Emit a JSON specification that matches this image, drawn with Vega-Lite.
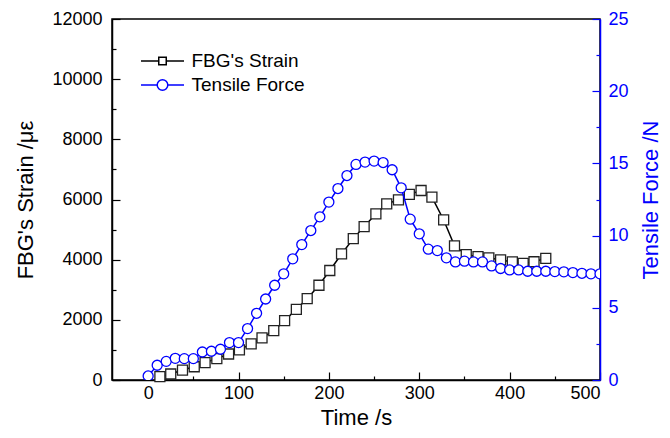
{
  "$schema": "https://vega.github.io/schema/vega-lite/v6.json",
  "autosize": {"type": "none"},
  "width": 488,
  "height": 361,
  "padding": {"left": 112, "top": 19, "right": 70, "bottom": 58},
  "background": "white",
  "config": {
    "view": {"stroke": "black", "strokeWidth": 1.5},
    "font": "Arial",
    "axis": {"grid": false, "labelFont": "Arial", "titleFont": "Arial", "labelFontSize": 18, "titleFontSize": 22, "titleFontWeight": "normal", "labelColor": "black", "titleColor": "black", "domainWidth": 1.5, "tickWidth": 1.2}
  },
  "datasets": {
    "strain": [
      {"t": 13, "strain": 110}, {"t": 25, "strain": 200}, {"t": 38, "strain": 330}, {"t": 51, "strain": 440},
      {"t": 63, "strain": 580}, {"t": 76, "strain": 710}, {"t": 89, "strain": 865}, {"t": 101, "strain": 1000},
      {"t": 114, "strain": 1200}, {"t": 126, "strain": 1400}, {"t": 139, "strain": 1640}, {"t": 151, "strain": 1975},
      {"t": 164, "strain": 2350}, {"t": 176, "strain": 2705}, {"t": 189, "strain": 3150}, {"t": 201, "strain": 3640},
      {"t": 214, "strain": 4190}, {"t": 227, "strain": 4700}, {"t": 239, "strain": 5100}, {"t": 252, "strain": 5520},
      {"t": 264, "strain": 5855}, {"t": 277, "strain": 5990}, {"t": 289, "strain": 6170}, {"t": 302, "strain": 6300},
      {"t": 314, "strain": 6080}, {"t": 327, "strain": 5320}, {"t": 339, "strain": 4460}, {"t": 352, "strain": 4170},
      {"t": 365, "strain": 4100}, {"t": 377, "strain": 4060}, {"t": 390, "strain": 3990}, {"t": 403, "strain": 3925},
      {"t": 415, "strain": 3875}, {"t": 427, "strain": 3930}, {"t": 440, "strain": 4045}
    ],
    "force": [
      {"t": 0, "force": 0.28}, {"t": 10, "force": 1.02}, {"t": 20, "force": 1.29}, {"t": 30, "force": 1.5},
      {"t": 40, "force": 1.48}, {"t": 50, "force": 1.48}, {"t": 60, "force": 1.94}, {"t": 70, "force": 1.99},
      {"t": 80, "force": 2.13}, {"t": 90, "force": 2.59}, {"t": 100, "force": 2.59}, {"t": 110, "force": 3.56},
      {"t": 120, "force": 4.62}, {"t": 130, "force": 5.61}, {"t": 140, "force": 6.56}, {"t": 150, "force": 7.35},
      {"t": 160, "force": 8.39}, {"t": 170, "force": 9.38}, {"t": 180, "force": 10.35}, {"t": 190, "force": 11.3},
      {"t": 200, "force": 12.32}, {"t": 210, "force": 13.26}, {"t": 220, "force": 14.16}, {"t": 230, "force": 14.93},
      {"t": 240, "force": 15.09}, {"t": 250, "force": 15.16}, {"t": 260, "force": 15.06}, {"t": 270, "force": 14.56},
      {"t": 280, "force": 13.31}, {"t": 290, "force": 11.14}, {"t": 300, "force": 10.12}, {"t": 310, "force": 9.06},
      {"t": 320, "force": 8.96}, {"t": 330, "force": 8.46}, {"t": 340, "force": 8.18}, {"t": 350, "force": 8.23},
      {"t": 360, "force": 8.18}, {"t": 370, "force": 8.18}, {"t": 380, "force": 7.9}, {"t": 390, "force": 7.72},
      {"t": 400, "force": 7.62}, {"t": 410, "force": 7.62}, {"t": 420, "force": 7.53}, {"t": 430, "force": 7.53},
      {"t": 440, "force": 7.53}, {"t": 450, "force": 7.51}, {"t": 460, "force": 7.49}, {"t": 470, "force": 7.44},
      {"t": 480, "force": 7.39}, {"t": 490, "force": 7.35}, {"t": 500, "force": 7.35}
    ]
  },
  "encoding": {
    "x": {
      "field": "t", "type": "quantitative",
      "scale": {"domain": [-40, 500], "nice": false, "zero": false},
      "axis": {
        "title": "Time /s",
        "values": [0, 50, 100, 150, 200, 250, 300, 350, 400, 450, 500],
        "labelExpr": "datum.value % 100 === 0 ? datum.label : ''",
        "tickSize": {"condition": {"test": "datum.value % 100 === 0", "value": -8}, "value": -4},
        "labelPadding": 12,
        "titlePadding": 5,
        "domainColor": "black", "tickColor": "black"
      }
    }
  },
  "layer": [
    {
      "data": {"name": "strain"},
      "encoding": {
        "y": {
          "field": "strain", "type": "quantitative",
          "scale": {"domain": [0, 12000], "nice": false},
          "axis": {
            "title": "FBG's Strain /με",
            "orient": "left",
            "values": [0, 1000, 2000, 3000, 4000, 5000, 6000, 7000, 8000, 9000, 10000, 11000, 12000],
            "labelExpr": "datum.value % 2000 === 0 ? datum.label : ''",
            "format": "d",
            "tickSize": {"condition": {"test": "datum.value % 2000 === 0", "value": -8}, "value": -4},
            "labelPadding": 18,
            "titlePadding": 14,
            "domainColor": "black", "tickColor": "black"
          }
        }
      },
      "layer": [
        {
          "mark": {"type": "line", "color": "black", "strokeWidth": 1.5},
          "encoding": {"color": {"datum": "FBG's Strain", "type": "nominal", "scale": {"domain": ["FBG's Strain", "Tensile Force"], "range": ["black", "#0000ff"]},
            "legend": {
              "orient": "none", "legendX": 39.5, "legendY": 31, "title": null, "padding": 0,
              "symbolSize": 400, "symbolStrokeWidth": 1.5, "rowPadding": 3, "labelOffset": 18,
              "labelFont": "Arial", "labelFontSize": 19, "labelColor": "black",
              "encode": {"symbols": {"update": {
                "shape": {"signal": "datum.value === 'Tensile Force' ? 'M-2.15,0H-0.53M0.53,0H2.15M-0.53,0A0.53,0.53 0 1,0 0.53,0A0.53,0.53 0 1,0 -0.53,0Z' : 'M-2.15,0H-0.375M0.375,0H2.15M-0.375,-0.375H0.375V0.375H-0.375Z'"},
                "fill": {"value": "white"},
                "fillOpacity": {"value": 1}
              }}}
            }}}
        },
        {
          "mark": {"type": "point", "shape": "square", "filled": true, "fill": "white", "stroke": "#222222", "strokeWidth": 1.3, "size": 100, "opacity": 1}
        }
      ]
    },
    {
      "data": {"name": "force"},
      "encoding": {
        "y": {
          "field": "force", "type": "quantitative",
          "scale": {"domain": [0, 25], "nice": false},
          "axis": {
            "title": "Tensile Force /N",
            "orient": "right",
            "titleAngle": 270,
            "titleBaseline": "top",
            "values": [0, 2.5, 5, 7.5, 10, 12.5, 15, 17.5, 20, 22.5, 25],
            "labelExpr": "datum.value % 5 === 0 ? datum.label : ''",
            "tickSize": {"condition": {"test": "datum.value % 5 === 0", "value": -8}, "value": -4},
            "labelPadding": 16,
            "titlePadding": 12,
            "domainColor": "#0000ff", "tickColor": "#0000ff", "labelColor": "#0000ff", "titleColor": "#0000ff"
          }
        }
      },
      "layer": [
        {
          "mark": {"type": "line", "color": "#0000ff", "strokeWidth": 1.5},
          "encoding": {"color": {"datum": "Tensile Force", "type": "nominal"}}
        },
        {
          "mark": {"type": "point", "shape": "circle", "filled": true, "fill": "white", "stroke": "#0000ff", "strokeWidth": 1.3, "size": 100, "opacity": 1, "clip": true}
        }
      ]
    }
  ],
  "resolve": {"scale": {"y": "independent"}}
}
